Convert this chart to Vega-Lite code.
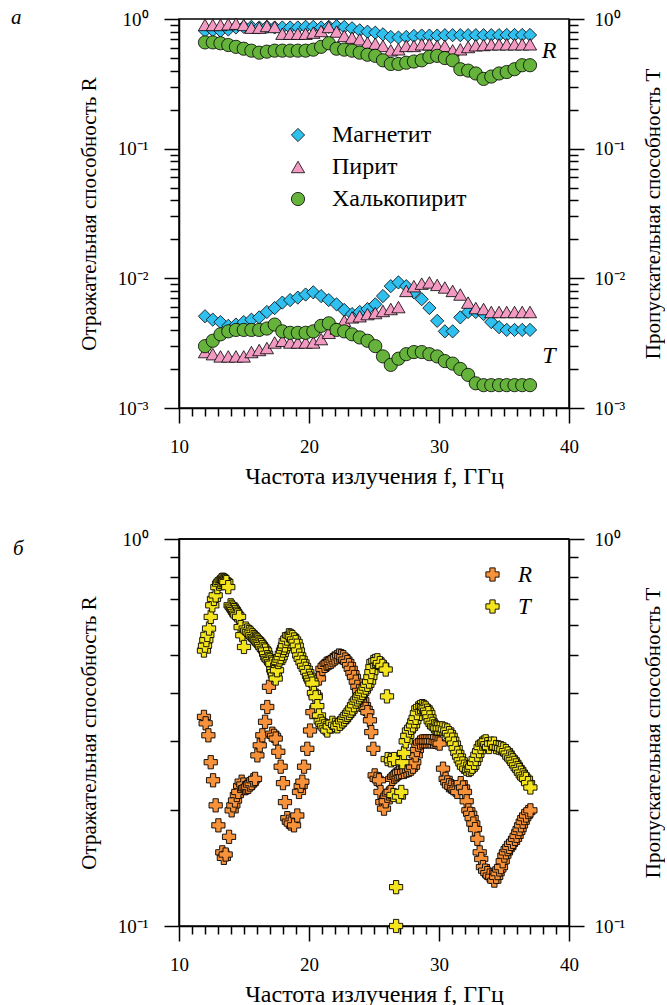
{
"$schema": "https://vega.github.io/schema/vega-lite/v6.json",
"padding": {"left": 10, "top": 6, "right": 0, "bottom": 0},
"spacing": 40,
"resolve": {"scale": {"color": "independent", "shape": "independent"}, "legend": {"color": "independent", "shape": "independent"}},
"config": {
 "font": "Liberation Serif",
 "view": {"stroke": "black", "strokeWidth": 1.5},
 "axis": {"grid": false, "domainColor": "black", "domainWidth": 1.5, "tickColor": "black", "tickWidth": 1.5, "labelFont": "Liberation Serif", "labelFontSize": 19, "labelColor": "black", "titleFont": "Liberation Serif", "titleFontSize": 21, "titleFontWeight": "normal", "titleColor": "black", "labelOverlap": false, "labelFlush": false, "labelBound": false}
},
"datasets": {
 "top": [
{"f":12.0,"m":"Магнетит","R":0.81,"T":0.0051},{"f":12.6,"m":"Магнетит","R":0.82,"T":0.0048},{"f":13.19,"m":"Магнетит","R":0.81,"T":0.0046},{"f":13.79,"m":"Магнетит","R":0.83,"T":0.0043},{"f":14.38,"m":"Магнетит","R":0.86,"T":0.0044},{"f":14.98,"m":"Магнетит","R":0.87,"T":0.0046},{"f":15.57,"m":"Магнетит","R":0.87,"T":0.0048},{"f":16.17,"m":"Магнетит","R":0.86,"T":0.005},{"f":16.76,"m":"Магнетит","R":0.87,"T":0.0055},{"f":17.36,"m":"Магнетит","R":0.86,"T":0.0059},{"f":17.95,"m":"Магнетит","R":0.86,"T":0.0065},{"f":18.55,"m":"Магнетит","R":0.86,"T":0.0068},{"f":19.14,"m":"Магнетит","R":0.86,"T":0.0071},{"f":19.74,"m":"Магнетит","R":0.87,"T":0.0075},{"f":20.33,"m":"Магнетит","R":0.87,"T":0.0078},{"f":20.93,"m":"Магнетит","R":0.86,"T":0.0073},{"f":21.52,"m":"Магнетит","R":0.87,"T":0.0068},{"f":22.12,"m":"Магнетит","R":0.88,"T":0.0063},{"f":22.71,"m":"Магнетит","R":0.868,"T":0.0057},{"f":23.31,"m":"Магнетит","R":0.848,"T":0.0053},{"f":23.9,"m":"Магнетит","R":0.818,"T":0.0055},{"f":24.5,"m":"Магнетит","R":0.798,"T":0.0058},{"f":25.1,"m":"Магнетит","R":0.785,"T":0.0063},{"f":25.69,"m":"Магнетит","R":0.762,"T":0.0073},{"f":26.29,"m":"Магнетит","R":0.727,"T":0.0087},{"f":26.88,"m":"Магнетит","R":0.72,"T":0.0093},{"f":27.48,"m":"Магнетит","R":0.727,"T":0.0087},{"f":28.07,"m":"Магнетит","R":0.74,"T":0.0078},{"f":28.67,"m":"Магнетит","R":0.745,"T":0.0069},{"f":29.26,"m":"Магнетит","R":0.745,"T":0.0059},{"f":29.86,"m":"Магнетит","R":0.745,"T":0.0047},{"f":30.45,"m":"Магнетит","R":0.75,"T":0.0039},{"f":31.05,"m":"Магнетит","R":0.75,"T":0.0039},{"f":31.64,"m":"Магнетит","R":0.75,"T":0.005},{"f":32.24,"m":"Магнетит","R":0.75,"T":0.0055},{"f":32.83,"m":"Магнетит","R":0.75,"T":0.0055},{"f":33.43,"m":"Магнетит","R":0.75,"T":0.0053},{"f":34.02,"m":"Магнетит","R":0.75,"T":0.0046},{"f":34.62,"m":"Магнетит","R":0.75,"T":0.0042},{"f":35.21,"m":"Магнетит","R":0.753,"T":0.004},{"f":35.81,"m":"Магнетит","R":0.753,"T":0.004},{"f":36.4,"m":"Магнетит","R":0.753,"T":0.004},{"f":37.0,"m":"Магнетит","R":0.753,"T":0.004},
{"f":12.0,"m":"Пирит","R":0.9,"T":0.0027},{"f":12.6,"m":"Пирит","R":0.9,"T":0.0026},{"f":13.19,"m":"Пирит","R":0.9,"T":0.0025},{"f":13.79,"m":"Пирит","R":0.91,"T":0.0025},{"f":14.38,"m":"Пирит","R":0.92,"T":0.0025},{"f":14.98,"m":"Пирит","R":0.9,"T":0.0025},{"f":15.57,"m":"Пирит","R":0.857,"T":0.0027},{"f":16.17,"m":"Пирит","R":0.857,"T":0.0028},{"f":16.76,"m":"Пирит","R":0.883,"T":0.0029},{"f":17.36,"m":"Пирит","R":0.868,"T":0.0032},{"f":17.95,"m":"Пирит","R":0.77,"T":0.0033},{"f":18.55,"m":"Пирит","R":0.77,"T":0.0032},{"f":19.14,"m":"Пирит","R":0.77,"T":0.0032},{"f":19.74,"m":"Пирит","R":0.77,"T":0.0032},{"f":20.33,"m":"Пирит","R":0.785,"T":0.0032},{"f":20.93,"m":"Пирит","R":0.808,"T":0.0034},{"f":21.52,"m":"Пирит","R":0.868,"T":0.0038},{"f":22.12,"m":"Пирит","R":0.8,"T":0.0041},{"f":22.71,"m":"Пирит","R":0.74,"T":0.0047},{"f":23.31,"m":"Пирит","R":0.718,"T":0.005},{"f":23.9,"m":"Пирит","R":0.697,"T":0.0051},{"f":24.5,"m":"Пирит","R":0.657,"T":0.0053},{"f":25.1,"m":"Пирит","R":0.645,"T":0.0054},{"f":25.69,"m":"Пирит","R":0.62,"T":0.0056},{"f":26.29,"m":"Пирит","R":0.573,"T":0.0058},{"f":26.88,"m":"Пирит","R":0.584,"T":0.006},{"f":27.48,"m":"Пирит","R":0.62,"T":0.008},{"f":28.07,"m":"Пирит","R":0.62,"T":0.0087},{"f":28.67,"m":"Пирит","R":0.638,"T":0.0091},{"f":29.26,"m":"Пирит","R":0.638,"T":0.0093},{"f":29.86,"m":"Пирит","R":0.62,"T":0.0089},{"f":30.45,"m":"Пирит","R":0.62,"T":0.0085},{"f":31.05,"m":"Пирит","R":0.573,"T":0.008},{"f":31.64,"m":"Пирит","R":0.584,"T":0.0075},{"f":32.24,"m":"Пирит","R":0.608,"T":0.0065},{"f":32.83,"m":"Пирит","R":0.627,"T":0.0059},{"f":33.43,"m":"Пирит","R":0.63,"T":0.0058},{"f":34.02,"m":"Пирит","R":0.638,"T":0.0055},{"f":34.62,"m":"Пирит","R":0.638,"T":0.0055},{"f":35.21,"m":"Пирит","R":0.638,"T":0.0055},{"f":35.81,"m":"Пирит","R":0.638,"T":0.0055},{"f":36.4,"m":"Пирит","R":0.638,"T":0.0055},{"f":37.0,"m":"Пирит","R":0.638,"T":0.0055},
{"f":12.0,"m":"Халькопирит","R":0.66,"T":0.003},{"f":12.6,"m":"Халькопирит","R":0.66,"T":0.0033},{"f":13.19,"m":"Халькопирит","R":0.65,"T":0.0037},{"f":13.79,"m":"Халькопирит","R":0.63,"T":0.0039},{"f":14.38,"m":"Халькопирит","R":0.61,"T":0.004},{"f":14.98,"m":"Халькопирит","R":0.59,"T":0.004},{"f":15.57,"m":"Халькопирит","R":0.57,"T":0.004},{"f":16.17,"m":"Халькопирит","R":0.55,"T":0.004},{"f":16.76,"m":"Халькопирит","R":0.56,"T":0.0041},{"f":17.36,"m":"Халькопирит","R":0.57,"T":0.0044},{"f":17.95,"m":"Халькопирит","R":0.57,"T":0.0039},{"f":18.55,"m":"Халькопирит","R":0.57,"T":0.0038},{"f":19.14,"m":"Халькопирит","R":0.57,"T":0.0038},{"f":19.74,"m":"Халькопирит","R":0.57,"T":0.0038},{"f":20.33,"m":"Халькопирит","R":0.58,"T":0.0039},{"f":20.93,"m":"Халькопирит","R":0.61,"T":0.0043},{"f":21.52,"m":"Халькопирит","R":0.65,"T":0.0045},{"f":22.12,"m":"Халькопирит","R":0.59,"T":0.004},{"f":22.71,"m":"Халькопирит","R":0.58,"T":0.0039},{"f":23.31,"m":"Халькопирит","R":0.57,"T":0.0037},{"f":23.9,"m":"Халькопирит","R":0.55,"T":0.0035},{"f":24.5,"m":"Халькопирит","R":0.53,"T":0.0033},{"f":25.1,"m":"Халькопирит","R":0.52,"T":0.003},{"f":25.69,"m":"Халькопирит","R":0.48,"T":0.0025},{"f":26.29,"m":"Халькопирит","R":0.45,"T":0.00215},{"f":26.88,"m":"Халькопирит","R":0.45,"T":0.0024},{"f":27.48,"m":"Халькопирит","R":0.46,"T":0.0026},{"f":28.07,"m":"Халькопирит","R":0.47,"T":0.0027},{"f":28.67,"m":"Халькопирит","R":0.48,"T":0.0027},{"f":29.26,"m":"Халькопирит","R":0.51,"T":0.0026},{"f":29.86,"m":"Халькопирит","R":0.52,"T":0.0025},{"f":30.45,"m":"Халькопирит","R":0.5,"T":0.0023},{"f":31.05,"m":"Халькопирит","R":0.48,"T":0.0022},{"f":31.64,"m":"Халькопирит","R":0.41,"T":0.002},{"f":32.24,"m":"Халькопирит","R":0.4,"T":0.0018},{"f":32.83,"m":"Халькопирит","R":0.38,"T":0.00155},{"f":33.43,"m":"Халькопирит","R":0.345,"T":0.0015},{"f":34.02,"m":"Халькопирит","R":0.36,"T":0.0015},{"f":34.62,"m":"Халькопирит","R":0.38,"T":0.0015},{"f":35.21,"m":"Халькопирит","R":0.39,"T":0.0015},{"f":35.81,"m":"Халькопирит","R":0.41,"T":0.0015},{"f":36.4,"m":"Халькопирит","R":0.44,"T":0.0015},{"f":37.0,"m":"Халькопирит","R":0.44,"T":0.0015}
 ],
 "bottom": [
{"f":11.92,"q":"R","v":0.347},{"f":12.05,"q":"R","v":0.334},{"f":12.26,"q":"R","v":0.311},{"f":12.44,"q":"R","v":0.265},{"f":12.62,"q":"R","v":0.238},{"f":12.82,"q":"R","v":0.205},{"f":13.03,"q":"R","v":0.182},{"f":13.33,"q":"R","v":0.155},{"f":13.45,"q":"R","v":0.15},{"f":13.59,"q":"R","v":0.153},{"f":13.85,"q":"R","v":0.17},{"f":14.05,"q":"R","v":0.199},{"f":14.18,"q":"R","v":0.205},{"f":14.31,"q":"R","v":0.211},{"f":14.45,"q":"R","v":0.218},{"f":14.56,"q":"R","v":0.222},{"f":14.7,"q":"R","v":0.23},{"f":14.82,"q":"R","v":0.236},{"f":14.95,"q":"R","v":0.232},{"f":15.08,"q":"R","v":0.227},{"f":15.2,"q":"R","v":0.228},{"f":15.33,"q":"R","v":0.229},{"f":15.46,"q":"R","v":0.232},{"f":15.59,"q":"R","v":0.234},{"f":15.72,"q":"R","v":0.238},{"f":15.85,"q":"R","v":0.24},{"f":16.03,"q":"R","v":0.276},{"f":16.21,"q":"R","v":0.293},{"f":16.41,"q":"R","v":0.311},{"f":16.62,"q":"R","v":0.337},{"f":16.79,"q":"R","v":0.368},{"f":16.92,"q":"R","v":0.415},{"f":17.18,"q":"R","v":0.314},{"f":17.31,"q":"R","v":0.31},{"f":17.44,"q":"R","v":0.305},{"f":17.64,"q":"R","v":0.282},{"f":17.82,"q":"R","v":0.258},{"f":18.0,"q":"R","v":0.234},{"f":18.15,"q":"R","v":0.209},{"f":18.33,"q":"R","v":0.19},{"f":18.45,"q":"R","v":0.186},{"f":18.6,"q":"R","v":0.184},{"f":18.85,"q":"R","v":0.182},{"f":19.1,"q":"R","v":0.193},{"f":19.23,"q":"R","v":0.222},{"f":19.36,"q":"R","v":0.23},{"f":19.49,"q":"R","v":0.236},{"f":19.62,"q":"R","v":0.258},{"f":19.87,"q":"R","v":0.287},{"f":20.08,"q":"R","v":0.32},{"f":20.26,"q":"R","v":0.357},{"f":20.51,"q":"R","v":0.394},{"f":20.77,"q":"R","v":0.436},{"f":21.03,"q":"R","v":0.462},{"f":21.2,"q":"R","v":0.47},{"f":21.36,"q":"R","v":0.476},{"f":21.5,"q":"R","v":0.478},{"f":21.67,"q":"R","v":0.481},{"f":21.82,"q":"R","v":0.486},{"f":21.97,"q":"R","v":0.491},{"f":22.15,"q":"R","v":0.495},{"f":22.31,"q":"R","v":0.5},{"f":22.48,"q":"R","v":0.498},{"f":22.64,"q":"R","v":0.495},{"f":22.8,"q":"R","v":0.488},{"f":22.95,"q":"R","v":0.481},{"f":23.08,"q":"R","v":0.472},{"f":23.21,"q":"R","v":0.462},{"f":23.34,"q":"R","v":0.45},{"f":23.46,"q":"R","v":0.44},{"f":23.6,"q":"R","v":0.428},{"f":23.72,"q":"R","v":0.415},{"f":23.85,"q":"R","v":0.405},{"f":23.97,"q":"R","v":0.394},{"f":24.1,"q":"R","v":0.383},{"f":24.23,"q":"R","v":0.372},{"f":24.36,"q":"R","v":0.364},{"f":24.49,"q":"R","v":0.357},{"f":24.69,"q":"R","v":0.34},{"f":24.79,"q":"R","v":0.317},{"f":24.95,"q":"R","v":0.287},{"f":25.05,"q":"R","v":0.245},{"f":25.2,"q":"R","v":0.24},{"f":25.38,"q":"R","v":0.238},{"f":25.5,"q":"R","v":0.222},{"f":25.64,"q":"R","v":0.209},{"f":25.77,"q":"R","v":0.201},{"f":25.9,"q":"R","v":0.21},{"f":26.03,"q":"R","v":0.217},{"f":26.15,"q":"R","v":0.22},{"f":26.28,"q":"R","v":0.222},{"f":26.41,"q":"R","v":0.24},{"f":26.55,"q":"R","v":0.243},{"f":26.67,"q":"R","v":0.245},{"f":26.8,"q":"R","v":0.247},{"f":26.92,"q":"R","v":0.249},{"f":27.1,"q":"R","v":0.25},{"f":27.31,"q":"R","v":0.25},{"f":27.5,"q":"R","v":0.252},{"f":27.69,"q":"R","v":0.253},{"f":27.85,"q":"R","v":0.255},{"f":28.0,"q":"R","v":0.258},{"f":28.1,"q":"R","v":0.265},{"f":28.21,"q":"R","v":0.276},{"f":28.3,"q":"R","v":0.285},{"f":28.41,"q":"R","v":0.294},{"f":28.55,"q":"R","v":0.298},{"f":28.72,"q":"R","v":0.3},{"f":28.88,"q":"R","v":0.3},{"f":29.03,"q":"R","v":0.3},{"f":29.2,"q":"R","v":0.3},{"f":29.36,"q":"R","v":0.3},{"f":29.55,"q":"R","v":0.3},{"f":29.74,"q":"R","v":0.299},{"f":29.9,"q":"R","v":0.298},{"f":30.05,"q":"R","v":0.296},{"f":30.31,"q":"R","v":0.255},{"f":30.51,"q":"R","v":0.24},{"f":30.64,"q":"R","v":0.235},{"f":30.77,"q":"R","v":0.231},{"f":30.95,"q":"R","v":0.229},{"f":31.15,"q":"R","v":0.227},{"f":31.28,"q":"R","v":0.225},{"f":31.41,"q":"R","v":0.222},{"f":31.67,"q":"R","v":0.234},{"f":31.85,"q":"R","v":0.228},{"f":32.0,"q":"R","v":0.222},{"f":32.13,"q":"R","v":0.21},{"f":32.26,"q":"R","v":0.199},{"f":32.4,"q":"R","v":0.195},{"f":32.51,"q":"R","v":0.19},{"f":32.64,"q":"R","v":0.184},{"f":32.77,"q":"R","v":0.178},{"f":32.95,"q":"R","v":0.168},{"f":33.13,"q":"R","v":0.155},{"f":33.25,"q":"R","v":0.149},{"f":33.38,"q":"R","v":0.142},{"f":33.55,"q":"R","v":0.139},{"f":33.72,"q":"R","v":0.137},{"f":33.9,"q":"R","v":0.135},{"f":34.1,"q":"R","v":0.134},{"f":34.26,"q":"R","v":0.131},{"f":34.4,"q":"R","v":0.134},{"f":34.51,"q":"R","v":0.137},{"f":34.64,"q":"R","v":0.14},{"f":34.77,"q":"R","v":0.142},{"f":34.9,"q":"R","v":0.147},{"f":35.03,"q":"R","v":0.152},{"f":35.15,"q":"R","v":0.155},{"f":35.28,"q":"R","v":0.158},{"f":35.41,"q":"R","v":0.16},{"f":35.54,"q":"R","v":0.163},{"f":35.7,"q":"R","v":0.165},{"f":35.85,"q":"R","v":0.168},{"f":35.97,"q":"R","v":0.171},{"f":36.1,"q":"R","v":0.175},{"f":36.2,"q":"R","v":0.178},{"f":36.31,"q":"R","v":0.182},{"f":36.44,"q":"R","v":0.186},{"f":36.56,"q":"R","v":0.19},{"f":36.7,"q":"R","v":0.193},{"f":36.87,"q":"R","v":0.197},{"f":37.03,"q":"R","v":0.199},
{"f":11.92,"q":"T","v":0.515},{"f":12.0,"q":"T","v":0.53},{"f":12.1,"q":"T","v":0.548},{"f":12.18,"q":"T","v":0.565},{"f":12.31,"q":"T","v":0.587},{"f":12.44,"q":"T","v":0.629},{"f":12.56,"q":"T","v":0.674},{"f":12.69,"q":"T","v":0.7},{"f":12.82,"q":"T","v":0.715},{"f":12.95,"q":"T","v":0.751},{"f":13.08,"q":"T","v":0.767},{"f":13.18,"q":"T","v":0.775},{"f":13.28,"q":"T","v":0.782},{"f":13.37,"q":"T","v":0.785},{"f":13.46,"q":"T","v":0.782},{"f":13.55,"q":"T","v":0.779},{"f":13.64,"q":"T","v":0.774},{"f":13.79,"q":"T","v":0.751},{"f":13.97,"q":"T","v":0.674},{"f":14.06,"q":"T","v":0.668},{"f":14.15,"q":"T","v":0.661},{"f":14.23,"q":"T","v":0.655},{"f":14.31,"q":"T","v":0.648},{"f":14.4,"q":"T","v":0.641},{"f":14.49,"q":"T","v":0.635},{"f":14.62,"q":"T","v":0.629},{"f":14.74,"q":"T","v":0.592},{"f":14.87,"q":"T","v":0.564},{"f":15.0,"q":"T","v":0.526},{"f":15.13,"q":"T","v":0.587},{"f":15.25,"q":"T","v":0.58},{"f":15.38,"q":"T","v":0.575},{"f":15.51,"q":"T","v":0.57},{"f":15.64,"q":"T","v":0.564},{"f":15.75,"q":"T","v":0.558},{"f":15.85,"q":"T","v":0.553},{"f":15.95,"q":"T","v":0.55},{"f":16.03,"q":"T","v":0.547},{"f":16.12,"q":"T","v":0.542},{"f":16.21,"q":"T","v":0.537},{"f":16.31,"q":"T","v":0.532},{"f":16.41,"q":"T","v":0.526},{"f":16.52,"q":"T","v":0.52},{"f":16.62,"q":"T","v":0.515},{"f":16.7,"q":"T","v":0.505},{"f":16.79,"q":"T","v":0.495},{"f":16.88,"q":"T","v":0.49},{"f":16.97,"q":"T","v":0.486},{"f":17.08,"q":"T","v":0.48},{"f":17.18,"q":"T","v":0.476},{"f":17.25,"q":"T","v":0.46},{"f":17.31,"q":"T","v":0.453},{"f":17.38,"q":"T","v":0.444},{"f":17.44,"q":"T","v":0.436},{"f":17.54,"q":"T","v":0.458},{"f":17.64,"q":"T","v":0.481},{"f":17.73,"q":"T","v":0.488},{"f":17.82,"q":"T","v":0.495},{"f":17.91,"q":"T","v":0.505},{"f":18.0,"q":"T","v":0.515},{"f":18.08,"q":"T","v":0.523},{"f":18.15,"q":"T","v":0.531},{"f":18.2,"q":"T","v":0.545},{"f":18.33,"q":"T","v":0.553},{"f":18.46,"q":"T","v":0.564},{"f":18.59,"q":"T","v":0.562},{"f":18.72,"q":"T","v":0.558},{"f":18.85,"q":"T","v":0.55},{"f":18.97,"q":"T","v":0.542},{"f":19.06,"q":"T","v":0.53},{"f":19.15,"q":"T","v":0.515},{"f":19.25,"q":"T","v":0.5},{"f":19.36,"q":"T","v":0.49},{"f":19.5,"q":"T","v":0.48},{"f":19.62,"q":"T","v":0.47},{"f":19.75,"q":"T","v":0.462},{"f":19.87,"q":"T","v":0.453},{"f":20.0,"q":"T","v":0.443},{"f":20.08,"q":"T","v":0.436},{"f":20.18,"q":"T","v":0.43},{"f":20.26,"q":"T","v":0.423},{"f":20.38,"q":"T","v":0.4},{"f":20.51,"q":"T","v":0.39},{"f":20.64,"q":"T","v":0.37},{"f":20.77,"q":"T","v":0.35},{"f":20.9,"q":"T","v":0.338},{"f":21.03,"q":"T","v":0.333},{"f":21.15,"q":"T","v":0.328},{"f":21.28,"q":"T","v":0.324},{"f":21.41,"q":"T","v":0.32},{"f":21.6,"q":"T","v":0.328},{"f":21.8,"q":"T","v":0.335},{"f":22.0,"q":"T","v":0.331},{"f":22.18,"q":"T","v":0.328},{"f":22.37,"q":"T","v":0.333},{"f":22.56,"q":"T","v":0.338},{"f":22.7,"q":"T","v":0.342},{"f":22.82,"q":"T","v":0.347},{"f":22.95,"q":"T","v":0.351},{"f":23.08,"q":"T","v":0.355},{"f":23.2,"q":"T","v":0.36},{"f":23.33,"q":"T","v":0.365},{"f":23.46,"q":"T","v":0.372},{"f":23.59,"q":"T","v":0.38},{"f":23.72,"q":"T","v":0.385},{"f":23.85,"q":"T","v":0.39},{"f":23.97,"q":"T","v":0.395},{"f":24.1,"q":"T","v":0.4},{"f":24.23,"q":"T","v":0.406},{"f":24.36,"q":"T","v":0.413},{"f":24.49,"q":"T","v":0.42},{"f":24.62,"q":"T","v":0.428},{"f":24.72,"q":"T","v":0.44},{"f":24.8,"q":"T","v":0.453},{"f":24.88,"q":"T","v":0.467},{"f":24.95,"q":"T","v":0.481},{"f":25.1,"q":"T","v":0.484},{"f":25.26,"q":"T","v":0.486},{"f":25.45,"q":"T","v":0.478},{"f":25.64,"q":"T","v":0.47},{"f":25.9,"q":"T","v":0.46},{"f":26.0,"q":"T","v":0.392},{"f":26.05,"q":"T","v":0.27},{"f":26.3,"q":"T","v":0.268},{"f":26.55,"q":"T","v":0.27},{"f":26.7,"q":"T","v":0.126},{"f":26.7,"q":"T","v":0.1},{"f":26.5,"q":"T","v":0.218},{"f":26.92,"q":"T","v":0.216},{"f":27.1,"q":"T","v":0.222},{"f":27.18,"q":"T","v":0.265},{"f":27.31,"q":"T","v":0.28},{"f":27.44,"q":"T","v":0.3},{"f":27.56,"q":"T","v":0.31},{"f":27.69,"q":"T","v":0.32},{"f":27.85,"q":"T","v":0.325},{"f":28.0,"q":"T","v":0.33},{"f":28.1,"q":"T","v":0.338},{"f":28.2,"q":"T","v":0.345},{"f":28.3,"q":"T","v":0.355},{"f":28.41,"q":"T","v":0.365},{"f":28.55,"q":"T","v":0.368},{"f":28.72,"q":"T","v":0.37},{"f":28.85,"q":"T","v":0.368},{"f":28.97,"q":"T","v":0.365},{"f":29.08,"q":"T","v":0.36},{"f":29.18,"q":"T","v":0.355},{"f":29.27,"q":"T","v":0.346},{"f":29.36,"q":"T","v":0.338},{"f":29.5,"q":"T","v":0.333},{"f":29.62,"q":"T","v":0.328},{"f":29.75,"q":"T","v":0.326},{"f":29.87,"q":"T","v":0.324},{"f":30.06,"q":"T","v":0.324},{"f":30.26,"q":"T","v":0.324},{"f":30.45,"q":"T","v":0.322},{"f":30.64,"q":"T","v":0.32},{"f":30.77,"q":"T","v":0.315},{"f":30.9,"q":"T","v":0.31},{"f":31.02,"q":"T","v":0.303},{"f":31.15,"q":"T","v":0.296},{"f":31.28,"q":"T","v":0.288},{"f":31.41,"q":"T","v":0.28},{"f":31.54,"q":"T","v":0.274},{"f":31.67,"q":"T","v":0.268},{"f":31.8,"q":"T","v":0.263},{"f":31.92,"q":"T","v":0.258},{"f":32.1,"q":"T","v":0.255},{"f":32.31,"q":"T","v":0.253},{"f":32.45,"q":"T","v":0.255},{"f":32.56,"q":"T","v":0.258},{"f":32.7,"q":"T","v":0.264},{"f":32.82,"q":"T","v":0.27},{"f":32.95,"q":"T","v":0.277},{"f":33.08,"q":"T","v":0.283},{"f":33.2,"q":"T","v":0.29},{"f":33.33,"q":"T","v":0.296},{"f":33.46,"q":"T","v":0.298},{"f":33.59,"q":"T","v":0.3},{"f":33.72,"q":"T","v":0.295},{"f":33.85,"q":"T","v":0.29},{"f":34.0,"q":"T","v":0.296},{"f":34.23,"q":"T","v":0.296},{"f":34.4,"q":"T","v":0.29},{"f":34.6,"q":"T","v":0.289},{"f":34.77,"q":"T","v":0.288},{"f":34.95,"q":"T","v":0.286},{"f":35.15,"q":"T","v":0.283},{"f":35.28,"q":"T","v":0.279},{"f":35.41,"q":"T","v":0.274},{"f":35.54,"q":"T","v":0.271},{"f":35.67,"q":"T","v":0.268},{"f":35.8,"q":"T","v":0.264},{"f":35.92,"q":"T","v":0.26},{"f":36.05,"q":"T","v":0.256},{"f":36.18,"q":"T","v":0.253},{"f":36.3,"q":"T","v":0.249},{"f":36.44,"q":"T","v":0.245},{"f":36.56,"q":"T","v":0.242},{"f":36.69,"q":"T","v":0.24},{"f":36.85,"q":"T","v":0.234},{"f":37.03,"q":"T","v":0.228}
 ]
},
"vconcat": [
 {
  "width": 390, "height": 389,
  "layer": [
   {
    "data": {"name": "top"},
    "transform": [{"fold": ["R", "T"], "as": ["q", "v"]}],
    "mark": {"type": "point", "filled": true, "stroke": "black", "strokeWidth": 0.8, "size": 175, "opacity": 1},
    "encoding": {
     "x": {"field": "f", "type": "quantitative", "scale": {"domain": [10, 40]},
       "axis": {"title": "Частота излучения f, ГГц", "values": [10,11,12,13,14,15,16,17,18,19,20,21,22,23,24,25,26,27,28,29,30,31,32,33,34,35,36,37,38,39,40], "labelExpr": "datum.value % 10 === 0 ? datum.label : ''", "tickSize": {"condition": {"test": "datum.value % 10 === 0", "value": 15}, "value": 8}, "labelPadding": 14, "titlePadding": 8, "titleFontSize": 24}},
     "y": {"field": "v", "type": "quantitative", "scale": {"type": "log", "domain": [0.001, 1]},
       "axis": {"title": "Отражательная способность R", "values": [0.001,0.002,0.003,0.004,0.005,0.006,0.007,0.008,0.009,0.01,0.02,0.03,0.04,0.05,0.06,0.07,0.08,0.09,0.1,0.2,0.3,0.4,0.5,0.6,0.7,0.8,0.9,1], "labelExpr": "datum.value === 1 ? '10⁰' : datum.value === 0.1 ? '10⁻¹' : datum.value === 0.01 ? '10⁻²' : datum.value === 0.001 ? '10⁻³' : ''", "tickSize": {"condition": {"test": "datum.value === 1 || datum.value === 0.1 || datum.value === 0.01 || datum.value === 0.001", "value": 15}, "value": 9}, "labelPadding": 16, "titlePadding": 18}},
     "color": {"field": "m", "type": "nominal", "scale": {"domain": ["Магнетит", "Пирит", "Халькопирит"], "range": ["#30C0F0", "#F29AC2", "#66B33C"]},
       "legend": {"title": null, "orient": "none", "legendX": 107, "legendY": 104, "symbolSize": 175, "symbolStrokeColor": "black", "symbolStrokeWidth": 0.8, "labelFont": "Liberation Serif", "labelFontSize": 24, "labelColor": "black", "labelOffset": 22, "rowPadding": 8, "padding": 0}},
     "shape": {"field": "m", "type": "nominal", "scale": {"domain": ["Магнетит", "Пирит", "Халькопирит"], "range": ["diamond", "triangle-up", "circle"]}}
    }
   },
   {
    "data": {"values": [{}]},
    "mark": {"type": "text", "font": "Liberation Serif", "fontStyle": "italic", "fontSize": 24, "color": "black"},
    "encoding": {
     "x": {"datum": 38.46, "type": "quantitative",
       "axis": {"title": "Частота излучения f, ГГц", "values": [10,11,12,13,14,15,16,17,18,19,20,21,22,23,24,25,26,27,28,29,30,31,32,33,34,35,36,37,38,39,40], "labelExpr": "datum.value % 10 === 0 ? datum.label : ''", "tickSize": {"condition": {"test": "datum.value % 10 === 0", "value": 15}, "value": 8}, "labelPadding": 14, "titlePadding": 8, "titleFontSize": 24}},
     "y": {"datum": 0.57, "type": "quantitative", "scale": {"type": "log", "domain": [0.001, 1]},
       "axis": {"orient": "right", "title": "Пропускательная способность T", "titleAngle": 270, "titleBaseline": "top", "values": [0.001,0.002,0.003,0.004,0.005,0.006,0.007,0.008,0.009,0.01,0.02,0.03,0.04,0.05,0.06,0.07,0.08,0.09,0.1,0.2,0.3,0.4,0.5,0.6,0.7,0.8,0.9,1], "labelExpr": "datum.value === 1 ? '10⁰' : datum.value === 0.1 ? '10⁻¹' : datum.value === 0.01 ? '10⁻²' : datum.value === 0.001 ? '10⁻³' : ''", "tickSize": {"condition": {"test": "datum.value === 1 || datum.value === 0.1 || datum.value === 0.01 || datum.value === 0.001", "value": 15}, "value": 9}, "labelPadding": 10, "titlePadding": 18}},
     "text": {"value": "R"}
    }
   },
   {
    "data": {"values": [{}]},
    "mark": {"type": "text", "font": "Liberation Serif", "fontStyle": "italic", "fontSize": 24, "color": "black"},
    "encoding": {
     "x": {"datum": 38.46, "type": "quantitative",
       "axis": {"title": "Частота излучения f, ГГц", "values": [10,11,12,13,14,15,16,17,18,19,20,21,22,23,24,25,26,27,28,29,30,31,32,33,34,35,36,37,38,39,40], "labelExpr": "datum.value % 10 === 0 ? datum.label : ''", "tickSize": {"condition": {"test": "datum.value % 10 === 0", "value": 15}, "value": 8}, "labelPadding": 14, "titlePadding": 8, "titleFontSize": 24}},
     "y": {"datum": 0.0025, "type": "quantitative", "axis": null},
     "text": {"value": "T"}
    }
   },
   {
    "data": {"values": [{}]},
    "mark": {"type": "text", "font": "Liberation Serif", "fontStyle": "italic", "fontSize": 21, "color": "black", "align": "left", "baseline": "alphabetic"},
    "encoding": {
     "x": {"datum": -2.92, "type": "quantitative",
       "axis": {"title": "Частота излучения f, ГГц", "values": [10,11,12,13,14,15,16,17,18,19,20,21,22,23,24,25,26,27,28,29,30,31,32,33,34,35,36,37,38,39,40], "labelExpr": "datum.value % 10 === 0 ? datum.label : ''", "tickSize": {"condition": {"test": "datum.value % 10 === 0", "value": 15}, "value": 8}, "labelPadding": 14, "titlePadding": 8, "titleFontSize": 24}},
     "y": {"datum": 0.915, "type": "quantitative", "axis": null},
     "text": {"value": "а"}
    }
   }
  ],
  "resolve": {"axis": {"y": "independent"}}
 },
 {
  "width": 390, "height": 387,
  "layer": [
   {
    "data": {"name": "bottom"},
    "mark": {"type": "point", "shape": "cross", "filled": true, "stroke": "black", "strokeWidth": 0.9, "size": 175, "opacity": 1},
    "encoding": {
     "x": {"field": "f", "type": "quantitative", "scale": {"domain": [10, 40]},
       "axis": {"title": "Частота излучения f, ГГц", "values": [10,11,12,13,14,15,16,17,18,19,20,21,22,23,24,25,26,27,28,29,30,31,32,33,34,35,36,37,38,39,40], "labelExpr": "datum.value % 10 === 0 ? datum.label : ''", "tickSize": {"condition": {"test": "datum.value % 10 === 0", "value": 15}, "value": 8}, "labelPadding": 14, "titlePadding": 8, "titleFontSize": 24}},
     "y": {"field": "v", "type": "quantitative", "scale": {"type": "log", "domain": [0.1, 1]},
       "axis": {"title": "Отражательная способность R", "values": [0.1,0.2,0.3,0.4,0.5,0.6,0.7,0.8,0.9,1], "labelExpr": "datum.value === 1 ? '10⁰' : datum.value === 0.1 ? '10⁻¹' : ''", "tickSize": {"condition": {"test": "datum.value === 1 || datum.value === 0.1", "value": 15}, "value": 9}, "labelPadding": 16, "titlePadding": 18}},
     "color": {"field": "q", "type": "nominal", "scale": {"domain": ["R", "T"], "range": ["#F7923A", "#F4E41C"]},
       "legend": {"title": null, "orient": "none", "legendX": 302, "legendY": 24, "symbolType": "cross", "symbolSize": 175, "symbolStrokeColor": "black", "symbolStrokeWidth": 0.9, "labelFont": "Liberation Serif", "labelFontSize": 23, "labelFontStyle": "italic", "labelColor": "black", "labelOffset": 14, "rowPadding": 8, "padding": 0}}
    }
   },
   {
    "data": {"values": [{}]},
    "mark": {"type": "rule", "color": "black", "strokeWidth": 1.5},
    "encoding": {
     "y": {"datum": 1, "type": "quantitative", "scale": {"type": "log", "domain": [0.1, 1]},
       "axis": {"orient": "right", "title": "Пропускательная способность T", "titleAngle": 270, "titleBaseline": "top", "values": [0.1,0.2,0.3,0.4,0.5,0.6,0.7,0.8,0.9,1], "labelExpr": "datum.value === 1 ? '10⁰' : datum.value === 0.1 ? '10⁻¹' : ''", "tickSize": {"condition": {"test": "datum.value === 1 || datum.value === 0.1", "value": 15}, "value": 9}, "labelPadding": 10, "titlePadding": 18}}
    }
   },
   {
    "data": {"values": [{}]},
    "mark": {"type": "text", "font": "Liberation Serif", "fontStyle": "italic", "fontSize": 21, "color": "black", "align": "left", "baseline": "alphabetic"},
    "encoding": {
     "x": {"datum": -2.77, "type": "quantitative",
       "axis": {"title": "Частота излучения f, ГГц", "values": [10,11,12,13,14,15,16,17,18,19,20,21,22,23,24,25,26,27,28,29,30,31,32,33,34,35,36,37,38,39,40], "labelExpr": "datum.value % 10 === 0 ? datum.label : ''", "tickSize": {"condition": {"test": "datum.value % 10 === 0", "value": 15}, "value": 8}, "labelPadding": 14, "titlePadding": 8, "titleFontSize": 24}},
     "y": {"datum": 0.909, "type": "quantitative", "axis": null},
     "text": {"value": "б"}
    }
   }
  ],
  "resolve": {"axis": {"y": "independent"}}
 }
]
}
